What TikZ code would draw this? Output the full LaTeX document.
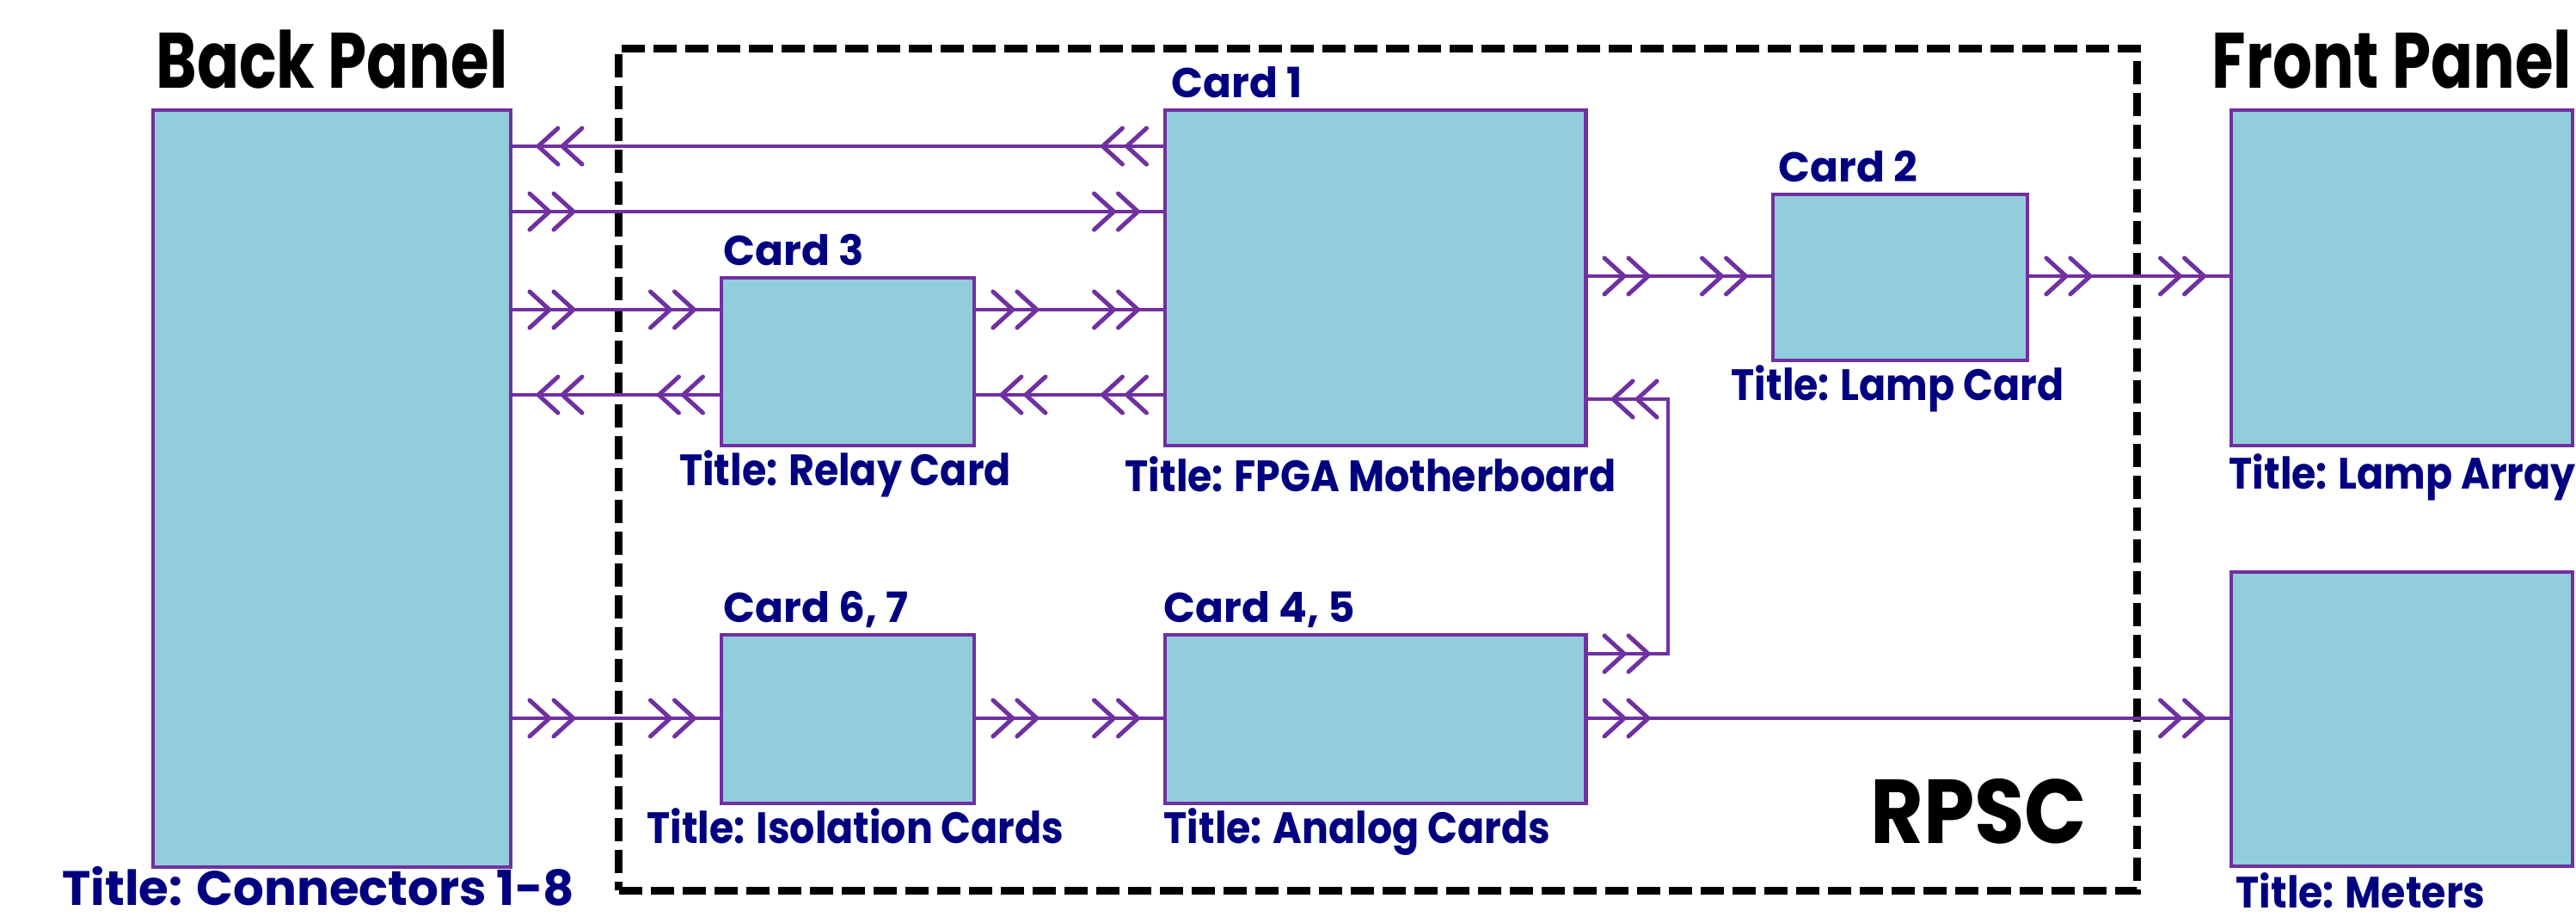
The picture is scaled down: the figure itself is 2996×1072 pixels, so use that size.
\documentclass[tikz,border=0pt]{standalone}
\usepackage{fontspec}
\setmainfont{Poppins}[FakeStretch=0.9]
\newfontfamily\headfont{Poppins}[FakeStretch=0.79]
\newfontfamily\widefont{Poppins}
\usetikzlibrary{arrows.meta,decorations.markings}

\definecolor{boxfill}{HTML}{92CDDC}
\definecolor{wire}{HTML}{7030A0}
\definecolor{titlenavy}{HTML}{000080}

\tikzset{
  chev/.tip={Straight Barb[length=0.23cm, width=0.42cm, line width=0.05cm, round, sep=0pt]
             Straight Barb[length=0.23cm, width=0.42cm, line width=0.05cm, round, sep=0pt]},
  unitbox/.style={draw=wire, fill=boxfill, line width=0.042cm, inner sep=0pt,
                  anchor=north west},
  flow/.style={draw=wire, line width=0.042cm, postaction={decorate},
    decoration={markings,
      mark=at position 0.73cm with {\arrow{chev}},
      mark=at position -0.27cm with {\arrow{chev}}}},
  cardlabel/.style={text=titlenavy, inner sep=0pt, anchor=base west,
                    font=\widefont\fontsize{13.8}{16}\selectfont\bfseries},
  titlelabel/.style={text=titlenavy, inner sep=0pt, anchor=base,
                     font=\fontsize{14.5}{17}\selectfont\bfseries},
  panellabel/.style={text=black, inner sep=0pt, anchor=base,
                     font=\headfont\fontsize{26}{30}\selectfont\bfseries},
  region/.style={draw=black, line width=0.09cm, dash pattern=on 0.27cm off 0.10cm,
                 inner sep=0pt, anchor=north west}
}

\begin{document}
\begin{tikzpicture}[x=0.01cm, y=-0.01cm]
\useasboundingbox (0,0) rectangle (2996,1072);

% enclosing RPSC region
\node[region, minimum width=17.65cm, minimum height=9.78cm] (rpsc) at (715,52) {};
\node[text=black, inner sep=0pt, anchor=base east,
      font=\fontsize{30}{35}\selectfont\bfseries] (rpsclabel) at (2428,980) {RPSC};

% units
\node[unitbox, minimum width=4.16cm, minimum height=8.79cm] (bp) at (176,126) {};
\node[unitbox, minimum width=4.89cm, minimum height=3.90cm] (c1) at (1353,126) {};
\node[unitbox, minimum width=2.94cm, minimum height=1.95cm] (c3) at (837,321) {};
\node[unitbox, minimum width=2.96cm, minimum height=1.93cm] (c2) at (2060,224) {};
\node[unitbox, minimum width=2.94cm, minimum height=1.96cm] (c67) at (837,736) {};
\node[unitbox, minimum width=4.89cm, minimum height=1.96cm] (c45) at (1353,736) {};
\node[unitbox, minimum width=3.97cm, minimum height=3.90cm] (lamp) at (2593,126) {};
\node[unitbox, minimum width=3.97cm, minimum height=3.42cm] (meters) at (2593,663) {};

% headings
\node[panellabel] (bptitle) at (386,102) {Back Panel};
\node[panellabel] (fptitle) at (2782,102) {Front Panel};

% card labels
\node[cardlabel] (c1lab) at (1362,113) {Card 1};
\node[cardlabel] (c2lab) at (2068,211) {Card 2};
\node[cardlabel] (c3lab) at (841,308) {Card 3};
\node[cardlabel] (c67lab) at (841,723) {Card 6, 7};
\node[cardlabel] (c45lab) at (1353,723) {Card 4, 5};

% titles
\node[titlelabel] (t3) at (983,564) {Title: Relay Card};
\node[titlelabel] (t1) at (1594,571) {Title: FPGA Motherboard};
\node[titlelabel] (t2) at (2207,465) {Title: Lamp Card};
\node[titlelabel, anchor=base west] (tl) at (2592,568) {Title: Lamp Array};
\node[titlelabel] (t67) at (995,980) {Title: Isolation Cards};
\node[titlelabel, anchor=base west] (t45) at (1353,980) {Title: Analog Cards};
\node[titlelabel, anchor=base west] (tm) at (2600,1055) {Title: Meters};
\node[titlelabel, anchor=base west, font=\widefont\fontsize{16}{20}\selectfont\bfseries]
  (tbp) at (72,1052) {Title: Connectors 1-8};

% signal rows
\coordinate (ya) at (0,170);
\coordinate (yb) at (0,246);
\coordinate (yc) at (0,360);
\coordinate (yd) at (0,459);
\coordinate (ye) at (0,321);
\coordinate (yf) at (0,760);
\coordinate (yg) at (0,464);
\coordinate (yh) at (0,835);
\coordinate (bend) at (1940,464);

% connections
\draw[flow] (c1.west |- ya) -- (bp.east |- ya);
\draw[flow] (bp.east |- yb) -- (c1.west |- yb);
\draw[flow] (bp.east |- yc) -- (c3.west |- yc);
\draw[flow] (c3.east |- yc) -- (c1.west |- yc);
\draw[flow] (c1.west |- yd) -- (c3.east |- yd);
\draw[flow] (c3.west |- yd) -- (bp.east |- yd);
\draw[flow] (c1.east |- ye) -- (c2.west |- ye);
\draw[flow] (c2.east |- ye) -- (lamp.west |- ye);
\draw[flow] (bp.east |- yh) -- (c67.west |- yh);
\draw[flow] (c67.east |- yh) -- (c45.west |- yh);
\draw[flow] (c45.east |- yh) -- (meters.west |- yh);
\draw[flow] (c45.east |- yf) -| (bend) -- (c1.east |- yg);
\end{tikzpicture}
\end{document}
